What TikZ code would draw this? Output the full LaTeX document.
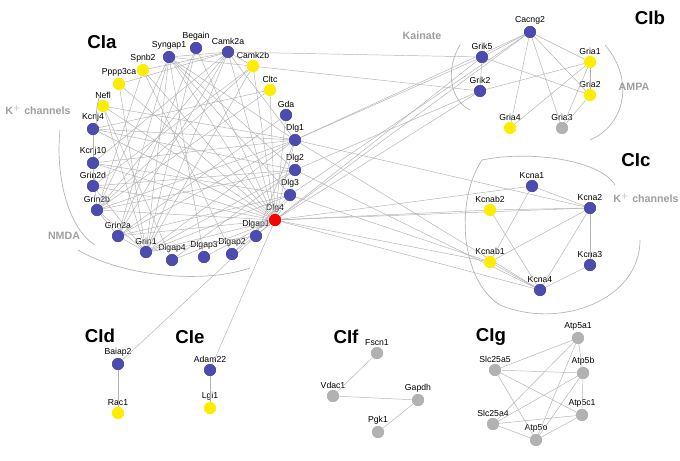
\documentclass[tikz,border=0pt]{standalone}
\usepackage{fontspec}
\setmainfont{Liberation Sans}
\begin{document}
\begin{tikzpicture}[x=0.75pt,y=-0.75pt,
 n/.style={circle,inner sep=0pt,minimum size=9pt,draw=none},
 bl/.style={n,fill=blue!55!black!70!white},
 ye/.style={n,fill=yellow!95!orange},
 gr/.style={n,fill=gray!60},
 rd/.style={n,fill=red},
 lb/.style={font=\fontsize{6.5}{7}\selectfont,inner sep=1pt},
 ed/.style={gray!60,line width=0.35pt},
 grp/.style={font=\bfseries\fontsize{14}{15}\selectfont},
 glb/.style={font=\bfseries\fontsize{8}{9}\selectfont,text=gray!75},
 arcl/.style={gray!60,line width=0.5pt}]
\useasboundingbox (0,0) rectangle (680,460);
\def\N#1#2#3#4#5{\node[#2,label={[lb]#5:#1}] (#1) at (#3,#4) {};}
\N{Syngap1}{bl}{169}{57}{above}
\N{Begain}{bl}{196}{48}{above}
\N{Camk2a}{bl}{228}{52}{above}
\N{Spnb2}{ye}{143}{70}{above}
\N{Camk2b}{ye}{253}{66}{above}
\N{Pppp3ca}{ye}{119}{84}{above}
\N{Nefl}{ye}{103}{106}{above}
\N{Cltc}{ye}{270}{90}{above}
\N{Gda}{bl}{286}{115}{above}
\N{Kcnj4}{bl}{93}{129}{above}
\N{Dlg1}{bl}{295}{140}{above}
\N{Kcnj10}{bl}{93}{163}{above}
\N{Dlg2}{bl}{295}{170}{above}
\N{Grin2d}{bl}{93}{186}{above}
\N{Dlg3}{bl}{290}{195}{above}
\N{Grin2b}{bl}{97}{210}{above}
\N{Dlg4}{rd}{275}{220}{above}
\N{Grin2a}{bl}{118}{236}{above}
\N{Grin1}{bl}{146}{252}{above}
\N{Dlgap4}{bl}{172}{260}{above}
\N{Dlgap3}{bl}{204}{257}{above}
\N{Dlgap2}{bl}{232}{254}{above}
\N{Dlgap1}{bl}{256}{236}{above}
\N{Grik5}{bl}{482}{57}{above}
\N{Cacng2}{bl}{530}{32}{above}
\N{Gria1}{ye}{590}{62}{above}
\N{Grik2}{bl}{480}{91}{above}
\N{Gria2}{ye}{590}{95}{above}
\N{Gria4}{ye}{510}{128}{above}
\N{Gria3}{gr}{562}{128}{above}
\N{Kcna1}{bl}{532}{186}{above}
\N{Kcnab2}{ye}{490}{210}{above}
\N{Kcna2}{bl}{590}{208}{above}
\N{Kcnab1}{ye}{490}{262}{above}
\N{Kcna3}{bl}{590}{265}{above}
\N{Kcna4}{bl}{540}{290}{above}
\N{Baiap2}{bl}{118}{364}{above}
\N{Rac1}{ye}{118}{413}{above}
\N{Adam22}{bl}{210}{370}{above}
\N{Lgi1}{ye}{210}{408}{above}
\N{Fscn1}{gr}{377}{353}{above}
\N{Vdac1}{gr}{333}{396}{above}
\N{Gapdh}{gr}{418}{400}{above}
\N{Pgk1}{gr}{378}{432}{above}
\N{Atp5a1}{gr}{578}{338}{above}
\N{Slc25a5}{gr}{495}{370}{above}
\N{Atp5b}{gr}{583}{373}{above}
\N{Slc25a4}{gr}{493}{424}{above}
\N{Atp5c1}{gr}{582}{415}{above}
\N{Atp5o}{gr}{536}{440}{above}
\foreach \a/\b in {
Dlg4/Syngap1,Dlg4/Begain,Dlg4/Camk2a,Dlg4/Spnb2,Dlg4/Camk2b,Dlg4/Pppp3ca,Dlg4/Nefl,Dlg4/Cltc,Dlg4/Gda,Dlg4/Kcnj4,Dlg4/Dlg1,Dlg4/Kcnj10,Dlg4/Grin2d,Dlg4/Grin2b,Dlg4/Grin2a,Dlg4/Grin1,Dlg4/Dlgap4,Dlg4/Dlgap3,Dlg4/Dlgap2,Dlg4/Dlgap1,Dlg4/Dlg3,
Dlg1/Syngap1,Dlg1/Kcnj4,Dlg1/Kcnj10,Dlg1/Grin2b,Dlg1/Grin1,Dlg1/Camk2a,Dlg1/Nefl,Dlg1/Dlgap1,Dlg1/Grin2a,
Dlg2/Grin2b,Dlg2/Grin1,Dlg2/Kcnj4,Dlg2/Syngap1,Dlg2/Dlgap4,Dlg2/Grin2d,
Dlg3/Grin2a,Dlg3/Grin1,Dlg3/Syngap1,Dlg3/Kcnj10,Dlg3/Dlgap2,
Syngap1/Grin1,Syngap1/Grin2b,Syngap1/Camk2a,Syngap1/Grin2a,Syngap1/Dlgap3,
Camk2a/Grin2b,Camk2a/Grin1,Camk2a/Camk2b,Camk2a/Grin2a,Camk2a/Spnb2,Camk2a/Pppp3ca,Camk2a/Kcnj10,
Camk2b/Grin2b,Camk2b/Grin1,Camk2b/Grin2d,Begain/Grin1,Begain/Grin2a,
Spnb2/Grin2b,Spnb2/Dlgap2,Pppp3ca/Grin1,Nefl/Grin1,Nefl/Dlgap4,Cltc/Grin2b,Cltc/Kcnj4,Gda/Grin2a,
Grin1/Grin2a,Grin1/Grin2b,Grin1/Grin2d,Grin2a/Grin2b,Grin2b/Kcnj10,Kcnj4/Grin2d,Dlgap1/Grin1,
Dlg4/Grik5,Dlg4/Grik2,Dlg4/Cacng2,Dlg1/Grik5,Dlg2/Grik2,Dlg3/Cacng2,Dlg1/Cacng2,Camk2a/Grik5,Syngap1/Grik2,
Dlg4/Kcna1,Dlg4/Kcnab2,Dlg4/Kcna2,Dlg4/Kcnab1,Dlg4/Kcna4,Dlg1/Kcna4,Dlg2/Kcna4,Dlg3/Kcnab1,Dlg1/Kcna2,
Cacng2/Grik5,Cacng2/Gria1,Cacng2/Gria2,Cacng2/Gria4,Cacng2/Gria3,Grik5/Grik2,Gria1/Gria2,Gria1/Gria4,Gria1/Gria3,Gria2/Gria3,Grik2/Gria1,Grik5/Gria2,
Kcna1/Kcna2,Kcnab2/Kcna2,Kcna2/Kcnab1,Kcna2/Kcna3,Kcna2/Kcna4,Kcnab1/Kcna4,Kcna3/Kcna4,Kcnab2/Kcna4,Kcna1/Kcnab1,
Baiap2/Dlgap1,Baiap2/Rac1,Adam22/Dlg4,Adam22/Lgi1,
Fscn1/Vdac1,Vdac1/Gapdh,Gapdh/Pgk1,
Atp5a1/Slc25a5,Atp5a1/Atp5b,Atp5a1/Atp5o,Atp5a1/Slc25a4,Slc25a5/Atp5b,Slc25a5/Atp5c1,Slc25a5/Atp5o,Atp5b/Atp5c1,Atp5b/Slc25a4,Atp5b/Atp5o,Slc25a4/Atp5c1,Slc25a4/Atp5o,Atp5c1/Atp5o}
{\draw[ed] (\a) -- (\b);}
\foreach \nm/\s in {Syngap1/bl,Begain/bl,Camk2a/bl,Spnb2/ye,Camk2b/ye,Pppp3ca/ye,Nefl/ye,Cltc/ye,Gda/bl,Kcnj4/bl,Dlg1/bl,Kcnj10/bl,Dlg2/bl,Grin2d/bl,Dlg3/bl,Grin2b/bl,Dlg4/rd,Grin2a/bl,Grin1/bl,Dlgap4/bl,Dlgap3/bl,Dlgap2/bl,Dlgap1/bl,Grik5/bl,Cacng2/bl,Gria1/ye,Grik2/bl,Gria2/ye,Gria4/ye,Gria3/gr,Kcna1/bl,Kcnab2/ye,Kcna2/bl,Kcnab1/ye,Kcna3/bl,Kcna4/bl,Baiap2/bl,Rac1/ye,Adam22/bl,Lgi1/ye,Fscn1/gr,Vdac1/gr,Gapdh/gr,Pgk1/gr,Atp5a1/gr,Slc25a5/gr,Atp5b/gr,Slc25a4/gr,Atp5c1/gr,Atp5o/gr}
{\node[\s] at (\nm) {};}
\draw[arcl] (100,95) arc[start angle=200,end angle=170,radius=60];
\draw[arcl] (60,130) .. controls (55,180) and (70,230) .. (95,245);
\draw[arcl] (78,250) .. controls (120,275) and (200,285) .. (250,268);
\draw[arcl] (460,45) .. controls (445,70) and (450,100) .. (470,110);
\draw[arcl] (605,45) .. controls (635,80) and (625,125) .. (590,140);
\draw[arcl] (482,160) .. controls (455,200) and (460,280) .. (500,305);
\draw[arcl] (500,305) .. controls (560,330) and (640,300) .. (640,240);
\draw[arcl] (482,160) .. controls (530,150) and (600,160) .. (615,185);
\node[grp] at (100,336) {CId};
\node[grp] at (190,337) {CIe};
\node[grp] at (346,337) {CIf};
\node[grp] at (491,337) {CIg};
\node[grp] at (102,42) {CIa};
\node[grp] at (650,18) {CIb};
\node[grp] at (636,160) {CIc};
\node[glb] at (422,36) {Kainate};
\node[glb] at (634,87) {AMPA};
\node[glb] at (38,110) {K$^{+}$ channels};
\node[glb] at (64,236) {NMDA};
\node[glb] at (646,198) {K$^{+}$ channels};
\end{tikzpicture}
\end{document}
